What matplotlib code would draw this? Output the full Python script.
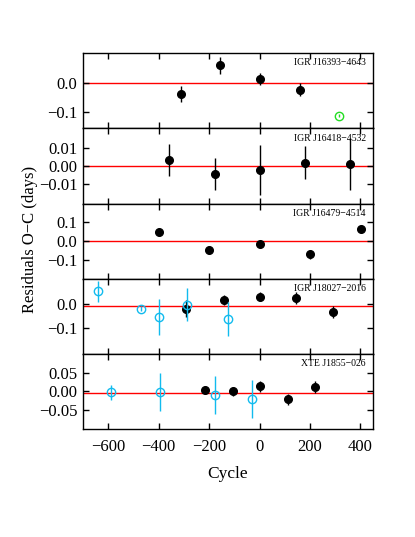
import numpy as np
import matplotlib.pyplot as plt

plt.rcParams['font.family'] = 'Liberation Serif'

names = ["IGR J16393\u22124643", "IGR J16418\u22124532", "IGR J16479\u22124514",
         "IGR J18027\u22122016", "XTE J1855\u2212026"]

# filled black points: cycle, residual, error
x1 = [-312, -155, 3, 160]
y1 = [-0.039, 0.059, 0.012, -0.024]
e1 = [0.026, 0.029, 0.02, 0.022]
x1o = [316]
y1o = [-0.112]
e1o = [0.005]

x2 = [-358, -178, 1, 179, 357]
y2 = [0.0034, -0.0046, -0.0024, 0.0018, 0.0009]
e2 = [0.0088, 0.009, 0.014, 0.0092, 0.0145]

x3 = [-400, -200, 1, 201, 401]
y3 = [0.048, -0.045, -0.018, -0.07, 0.066]
e3 = [0.015, 0.02, 0.008, 0.025, 0.02]

x4 = [-292, -143, 1, 146, 292]
y4 = [-0.02, 0.015, 0.03, 0.023, -0.035]
e4 = [0.035, 0.02, 0.02, 0.025, 0.025]
x4o = [-639, -471, -398, -286, -125]
y4o = [0.053, -0.02, -0.054, -0.004, -0.064]
e4o = [0.044, 0.012, 0.075, 0.07, 0.073]

x5 = [-218, -107, 0, 111, 220]
y5 = [0.004, 0.001, 0.014, -0.021, 0.012]
e5 = [0.01, 0.012, 0.015, 0.015, 0.015]
x5o = [-589, -393, -176, -29]
y5o = [-0.002, -0.002, -0.009, -0.02]
e5o = [0.02, 0.05, 0.05, 0.05]

zero_lines = [0.0, 0.0, 0.0, -0.011, -0.003]
ylims = [(-0.155, 0.1), (-0.021, 0.021), (-0.2, 0.2), (-0.21, 0.105), (-0.1, 0.1)]
yticks = [[-0.1, 0.0], [-0.01, 0.0, 0.01], [-0.1, 0.0, 0.1], [-0.1, 0.0], [-0.05, 0.0, 0.05]]
yfmt = ["%.1f", "%.2f", "%.1f", "%.1f", "%.2f"]
xticks = [-600, -400, -200, 0, 200, 400]

filled = [(x1, y1, e1), (x2, y2, e2), (x3, y3, e3), (x4, y4, e4), (x5, y5, e5)]
opened = [(x1o, y1o, e1o, "#22dd22"), None, None, (x4o, y4o, e4o, "#11bbee"), (x5o, y5o, e5o, "#11bbee")]


def lab(fmt, v):
    return (fmt % v).replace("-", "\u2212")


fig, axes = plt.subplots(5, 1, figsize=(4.15, 5.37), dpi=100, sharex=True)
fig.subplots_adjust(left=0.2, right=0.899, top=0.901, bottom=0.201, hspace=0)

for i, ax in enumerate(axes):
    ax.axhline(zero_lines[i], color="red", lw=1, zorder=1)
    xs, ys, es = filled[i]
    ax.errorbar(xs, ys, yerr=es, fmt="o", color="black", ms=5.5, elinewidth=1, capsize=0, zorder=3)
    if opened[i] is not None:
        xo, yo, eo, c = opened[i]
        ax.errorbar(xo, yo, yerr=eo, fmt="o", mfc="none", mec=c, ecolor=c, ms=6, mew=1,
                    elinewidth=1, capsize=0, zorder=4)
    ax.set_ylim(*ylims[i])
    ax.set_yticks(yticks[i])
    ax.set_yticklabels([lab(yfmt[i], v) for v in yticks[i]])
    ax.set_xlim(-700, 450)
    ax.set_xticks(xticks)
    ax.set_xticklabels([lab("%d", v) for v in xticks])
    ax.tick_params(direction="in", top=True, right=True, length=4, width=1, labelsize=12, pad=4)
    ax.tick_params(axis="x", pad=7)
    for s in ax.spines.values():
        s.set_linewidth(1)
    ax.text(0.975, 0.93, names[i], transform=ax.transAxes, ha="right", va="top", fontsize=7)

axes[-1].set_xlabel("Cycle", fontsize=12.5, labelpad=8)
fig.text(0.073, 0.555, "Residuals O\u2212C (days)", rotation=90, ha="center", va="center", fontsize=12)

fig.savefig("out.png", dpi=100)
